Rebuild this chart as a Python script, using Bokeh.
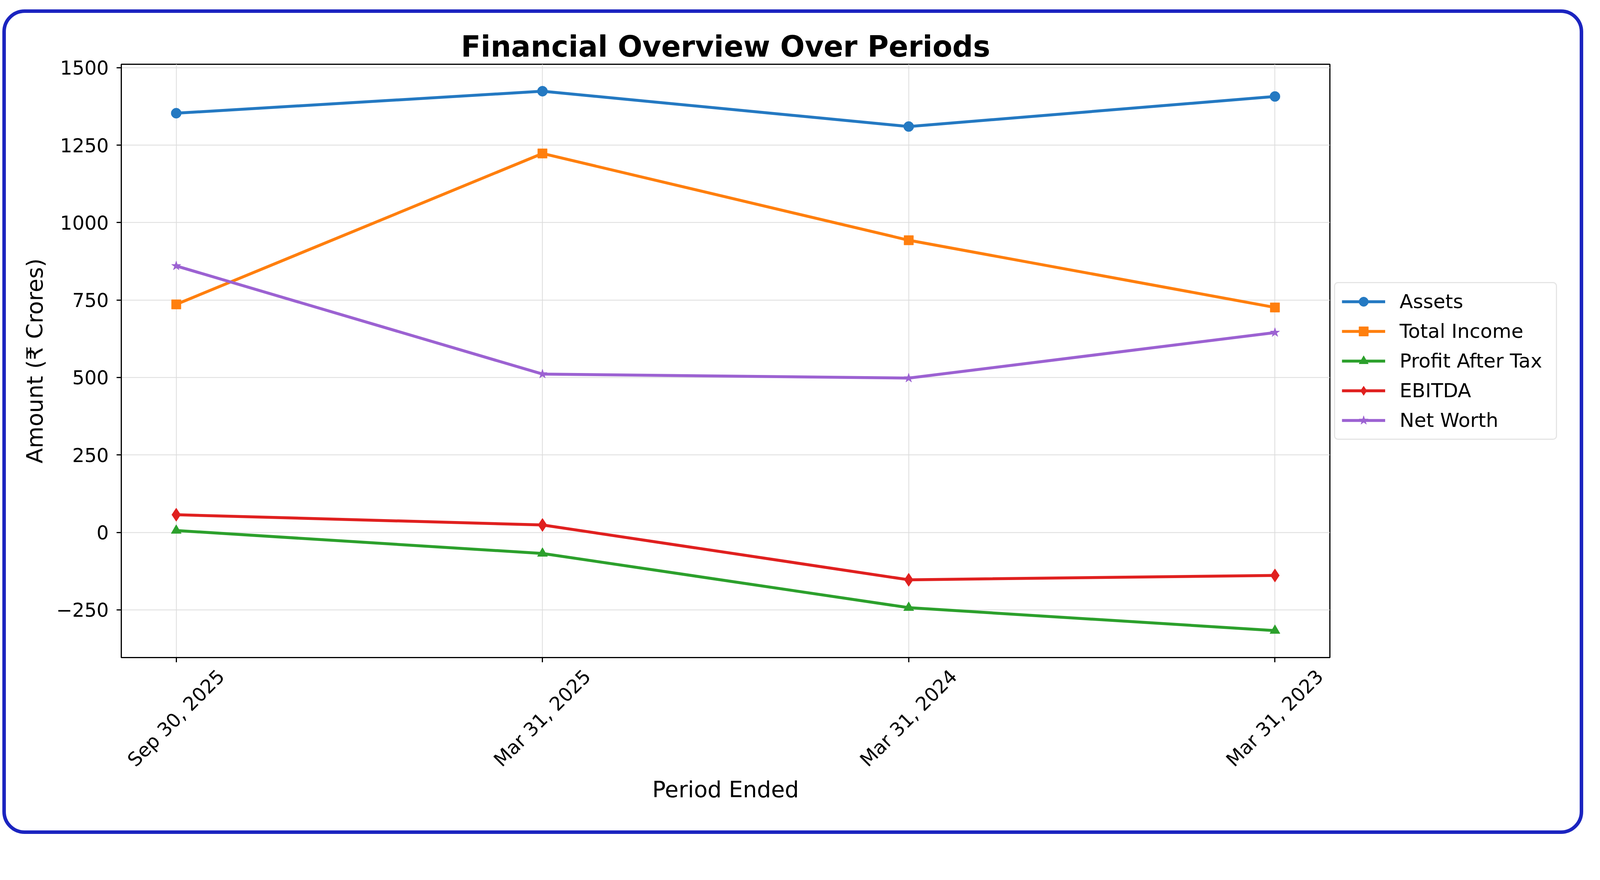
from math import pi
from bokeh.plotting import figure
from bokeh.models import (Range1d, FixedTicker, Legend, LegendItem, LinearAxis, Grid)
from bokeh.embed import file_html
from bokeh.resources import INLINE

# ---- data ----
periods = ["Sep 30, 2025", "Mar 31, 2025", "Mar 31, 2024", "Mar 31, 2023"]
assets = [1353, 1424, 1310, 1407]
total_income = [736, 1223, 943, 726]
profit_after_tax = [6, -68, -243, -317]
ebitda = [57, 24, -153, -139]
net_worth = [860, 511, 498, 645]
y_ticks = [-250, 0, 250, 500, 750, 1000, 1250, 1500]

FONT = "DejaVu Sans"
FRAME_W, FRAME_H = 3094, 1519
BORDER_L, BORDER_R, BORDER_T, BORDER_B = 295, 640, 131, 443
CANVAS_W = BORDER_L + FRAME_W + BORDER_R
X0, X1 = -0.15, 3.15
Y0, Y1 = -404, 1511
SHIFT = 115 / (FRAME_W / (X1 - X0))   # label offset so rotated labels centre on ticks

xs = list(range(len(periods)))

p = figure(frame_width=FRAME_W, frame_height=FRAME_H,
           output_backend="svg", toolbar_location=None,
           x_range=Range1d(X0, X1), y_range=Range1d(Y0, Y1),
           x_axis_location=None,
           min_border_left=BORDER_L, min_border_right=BORDER_R,
           min_border_top=BORDER_T, min_border_bottom=BORDER_B)
p.styles = {"border": "9px solid #1b24c0", "border-radius": "57px",
            "box-sizing": "content-box", "max-width": f"{CANVAS_W}px",
            "margin-left": "6px", "margin-top": "24px"}
p.background_fill_color = "white"
p.border_fill_color = None
p.outline_line_color = "black"
p.outline_line_width = 3
p.outline_line_alpha = 1.0

# title
p.title.text = "Financial Overview Over Periods"
p.title.text_font = FONT
p.title.text_font_size = "74px"
p.title.text_font_style = "bold"
p.title.align = "center"
p.title.standoff = 5
p.title.text_color = "black"

# y axis
ya = p.yaxis[0]
ya.ticker = FixedTicker(ticks=y_ticks)
ya.axis_line_color = "black"
ya.axis_line_width = 3
ya.major_tick_line_width = 3
ya.major_tick_out = 12
ya.major_tick_in = 0
ya.minor_tick_line_color = None
ya.major_label_text_font = FONT
ya.major_label_text_font_size = "49px"
ya.major_label_text_color = "black"
ya.major_label_standoff = 20
ya.major_label_overrides = {t: ("\u2212" + str(-t) if t < 0 else str(t)) for t in y_ticks}
ya.axis_label = "Amount (\u20b9 Crores)"
ya.axis_label_text_font = FONT
ya.axis_label_text_font_size = "57px"
ya.axis_label_text_font_style = "normal"
ya.axis_label_text_color = "black"
ya.axis_label_standoff = 19

# x axis: labels on a slightly shifted range so the rotated text is centred on
# each tick; the real tick marks are drawn as minor ticks at the true positions
p.extra_x_ranges = {"lab": Range1d(X0 - SHIFT, X1 - SHIFT)}
xa = LinearAxis(x_range_name="lab",
                ticker=FixedTicker(ticks=xs, minor_ticks=[i - SHIFT for i in xs]))
xa.major_label_overrides = {i: lab for i, lab in zip(xs, periods)}
xa.major_label_orientation = pi / 4
xa.major_label_text_font = FONT
xa.major_label_text_font_size = "49px"
xa.major_label_text_color = "black"
xa.major_label_standoff = 28
xa.major_tick_out = 0
xa.major_tick_in = 0
xa.major_tick_line_color = None
xa.minor_tick_out = 12
xa.minor_tick_in = 0
xa.minor_tick_line_width = 3
xa.minor_tick_line_color = "black"
xa.axis_line_color = "black"
xa.axis_line_width = 3
xa.axis_label = "Period Ended"
xa.axis_label_text_font = FONT
xa.axis_label_text_font_size = "57px"
xa.axis_label_text_font_style = "normal"
xa.axis_label_text_color = "black"
xa.axis_label_standoff = -9
p.add_layout(xa, "below")

# grid
p.xgrid.visible = False
p.ygrid.ticker = FixedTicker(ticks=y_ticks)
p.ygrid.grid_line_color = "#dcdcdc"
p.ygrid.grid_line_width = 2
p.add_layout(Grid(dimension=0, ticker=FixedTicker(ticks=xs),
                  grid_line_color="#dcdcdc", grid_line_width=2))

# series
series = [
    ("Assets", assets, "#2479c2", "circle", 26),
    ("Total Income", total_income, "#ff7f0e", "square", 24),
    ("Profit After Tax", profit_after_tax, "#2ca02c", "triangle", 26),
    ("EBITDA", ebitda, "#e0201f", "diamond", 34),
    ("Net Worth", net_worth, "#9c62d2", "star", 25),
]
items = []
for name, vals, color, marker, size in series:
    ln = p.line(xs, vals, line_color=color, line_width=7.5)
    sc = p.scatter(xs, vals, marker=marker, size=size, fill_color=color,
                   line_color=color, line_width=1)
    items.append(LegendItem(label=name, renderers=[ln, sc]))

legend = Legend(items=items, location="center_left")
legend.label_text_font = FONT
legend.label_text_font_size = "50px"
legend.label_text_color = "black"
legend.glyph_width = 111
legend.glyph_height = 60
legend.label_height = 60
legend.label_width = 383
legend.label_standoff = 37
legend.spacing = 16
legend.padding = 17
legend.margin = 11
legend.border_line_color = "#cccccc"
legend.border_line_width = 3
legend.background_fill_color = "white"
legend.background_fill_alpha = 0.8
if "border_radius" in Legend.properties():
    legend.border_radius = 10
p.add_layout(legend, "right")

open("out.html", "w").write(file_html(p, INLINE))
